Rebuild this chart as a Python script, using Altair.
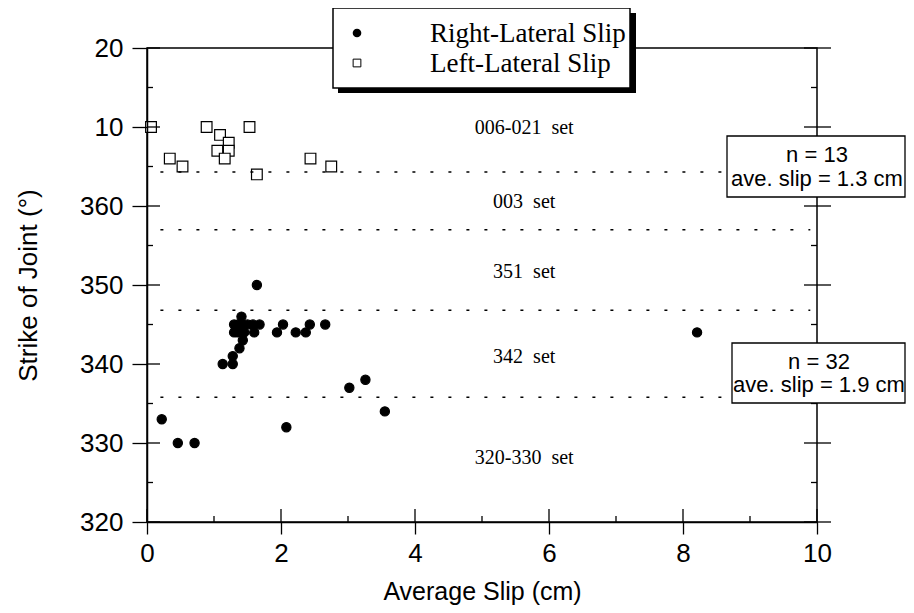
import altair as alt
import pandas as pd

# ---------------- data ----------------
series_names = ["Right-Lateral Slip", "Left-Lateral Slip"]

rl_slip = [1.64, 1.41, 1.30, 1.42, 1.58, 1.68, 1.36, 1.50, 1.30, 1.45, 1.60, 1.40,
           1.43, 1.38, 1.28, 1.13, 1.28, 1.94, 2.03, 2.22, 2.37, 2.43, 2.66,
           3.26, 3.02, 3.55, 0.22, 0.46, 0.71, 2.08, 8.21, 1.35]
rl_strike = [350, 346, 345, 345, 345, 345, 345, 345, 344, 344, 344, 344,
             343, 342, 341, 340, 340, 344, 345, 344, 344, 345, 345,
             338, 337, 334, 333, 330, 330, 332, 344, 344]

ll_slip = [0.06, 0.89, 1.53, 1.09, 1.22, 1.05, 1.22, 1.16, 0.34, 0.53, 2.44, 2.75, 1.64]
ll_strike = [10, 10, 10, 9, 8, 7, 7, 6, 6, 5, 6, 5, 4]

set_names = ["006-021\u00a0 set", "003\u00a0 set", "351\u00a0 set", "342\u00a0 set", "320-330\u00a0 set"]
set_strike = [369.9, 360.5, 351.6, 340.9, 328.1]
set_slip = [5.63, 5.63, 5.63, 5.63, 5.63]

boundary_strike = [364.3, 357.0, 346.8, 335.8]
boundary_from = [0.2, 0.2, 0.2, 0.2]
boundary_to = [9.9, 9.9, 9.9, 9.9]

y_major = [320, 330, 340, 350, 360, 370, 380]
y_minor = [325, 335, 345, 355, 365, 375]
x_major = [0, 2, 4, 6, 8, 10]
x_minor = [1, 3, 5, 7, 9]

stats_n = ["n = 13", "n = 32"]
stats_slip = ["ave. slip = 1.3 cm", "ave. slip = 1.9 cm"]

# ---------------- tables ----------------
def unwrap(s):
    return s + 360 if s < 180 else s

pts = pd.DataFrame({
    "slip": rl_slip + ll_slip,
    "strike": [unwrap(s) for s in rl_strike + ll_strike],
    "type": [series_names[0]] * len(rl_slip) + [series_names[1]] * len(ll_slip),
})
sets_df = pd.DataFrame({"slip": set_slip, "strike": set_strike, "label": set_names})
bound_df = pd.DataFrame({"slip": boundary_from, "x2": boundary_to, "strike": boundary_strike})
ymaj_df = pd.DataFrame({"strike": y_major})
ymin_df = pd.DataFrame({"strike": y_minor})
xmaj_df = pd.DataFrame({"slip": x_major})
xmin_df = pd.DataFrame({"slip": x_minor})
one = pd.DataFrame({"k": [0]})

W, H = 670, 474
SANS = "Liberation Sans"
SERIF = "Liberation Serif"

xs = alt.Scale(domain=[0, 10], nice=False, zero=False)
ys = alt.Scale(domain=[320, 380], nice=False, zero=False)

x_axis = alt.Axis(values=x_major, tickSize=12, tickColor="black", tickWidth=1.3,
                  domainColor="black", domainWidth=1.5, grid=False,
                  labelFont=SANS, labelFontSize=26, labelColor="black", labelPadding=6,
                  labelFlush=False, zindex=1,
                  title="Average Slip (cm)", titleFont=SANS, titleFontSize=25,
                  titleFontWeight="normal", titleColor="black",
                  titleX=335, titleY=69, titleBaseline="middle", titleAlign="center")
y_axis = alt.Axis(values=y_major, tickSize=15, tickColor="black", tickWidth=1.3,
                  domainColor="black", domainWidth=1.5, grid=False, zindex=1,
                  labelExpr="datum.value > 360 ? datum.value - 360 : datum.value",
                  labelFont=SANS, labelFontSize=26, labelColor="black", labelPadding=9,
                  labelBaseline="middle",
                  title="Strike of Joint (°)", titleFont=SANS, titleFontSize=26,
                  titleFontWeight="normal", titleColor="black",
                  titleX=-119, titleY=237, titleAngle=270,
                  titleBaseline="middle", titleAlign="center")

X = lambda: alt.X("slip:Q", scale=xs, axis=x_axis)
Y = lambda: alt.Y("strike:Q", scale=ys, axis=y_axis)

# ---------------- data layers ----------------
points = alt.Chart(pts).mark_point(filled=True, stroke="black", strokeWidth=1.2, opacity=1).encode(
    x=X(), y=Y(),
    shape=alt.Shape("type:N", scale=alt.Scale(domain=series_names, range=["circle", "square"]), legend=None),
    fill=alt.Fill("type:N", scale=alt.Scale(domain=series_names, range=["black", "white"]), legend=None),
    size=alt.Size("type:N", scale=alt.Scale(domain=series_names, range=[85, 115]), legend=None),
)

bounds = alt.Chart(bound_df).mark_rule(color="black", strokeWidth=1.6, strokeDash=[3, 15]).encode(
    x=X(), x2="x2:Q", y=Y())

set_text = alt.Chart(sets_df).mark_text(font=SERIF, fontSize=20, color="black").encode(
    x=X(), y=Y(), text="label:N")

# inner halves of the crossing ticks and the minor ticks
tick_style = dict(color="black", strokeWidth=1.3)
left_major = alt.Chart(ymaj_df).mark_rule(**tick_style).encode(
    y=Y(), x=alt.value(0), x2=alt.value(13))
left_minor = alt.Chart(ymin_df).mark_rule(**tick_style).encode(
    y=Y(), x=alt.value(0), x2=alt.value(6))
right_major = alt.Chart(ymaj_df).mark_rule(**tick_style).encode(
    y=Y(), x=alt.value(W - 13), x2=alt.value(W + 14))
right_minor = alt.Chart(ymin_df).mark_rule(**tick_style).encode(
    y=Y(), x=alt.value(W - 6), x2=alt.value(W))
bottom_major = alt.Chart(xmaj_df).mark_rule(**tick_style).encode(
    x=X(), y=alt.value(H - 13), y2=alt.value(H))
bottom_minor = alt.Chart(xmin_df).mark_rule(**tick_style).encode(
    x=X(), y=alt.value(H - 6), y2=alt.value(H))

# ---------------- legend box (drawn by hand, with drop shadow) ----------------
shadow = alt.Chart(one).mark_rect(color="black").encode(
    x=alt.value(191), x2=alt.value(489), y=alt.value(-35), y2=alt.value(45))
legend_box = alt.Chart(one).mark_rect(fill="white", stroke="black", strokeWidth=1.5).encode(
    x=alt.value(186), x2=alt.value(483), y=alt.value(-40), y2=alt.value(40))
leg_sym1 = alt.Chart(one).mark_point(shape="circle", filled=True, color="black", size=75, opacity=1).encode(
    x=alt.value(210), y=alt.value(-15))
leg_sym2 = alt.Chart(one).mark_point(shape="square", fill="white", stroke="black", strokeWidth=1,
                                     size=60, opacity=1).encode(x=alt.value(210), y=alt.value(15))
leg_style = dict(font=SERIF, fontSize=27, color="black", align="left", baseline="middle")
leg_t1 = alt.Chart(one).mark_text(**leg_style, text=series_names[0]).encode(x=alt.value(283), y=alt.value(-14))
leg_t2 = alt.Chart(one).mark_text(**leg_style, text=series_names[1]).encode(x=alt.value(283), y=alt.value(16))

# ---------------- statistics boxes ----------------
box_style = dict(fill="white", stroke="black", strokeWidth=1.3)
box1 = alt.Chart(one).mark_rect(**box_style).encode(
    x=alt.value(580), x2=alt.value(758), y=alt.value(88), y2=alt.value(149))
box2 = alt.Chart(one).mark_rect(**box_style).encode(
    x=alt.value(585), x2=alt.value(758), y=alt.value(295), y2=alt.value(355))
txt_style = dict(font=SANS, fontSize=22, color="black", align="center", baseline="middle")
t1a = alt.Chart(one).mark_text(**txt_style, text=stats_n[0]).encode(x=alt.value(670), y=alt.value(107))
t1b = alt.Chart(one).mark_text(**txt_style, text=stats_slip[0]).encode(x=alt.value(670), y=alt.value(131))
t2a = alt.Chart(one).mark_text(**txt_style, text=stats_n[1]).encode(x=alt.value(672), y=alt.value(314))
t2b = alt.Chart(one).mark_text(**txt_style, text=stats_slip[1]).encode(x=alt.value(672), y=alt.value(337))

chart = alt.layer(
    points, bounds, set_text, left_major, left_minor, right_major, right_minor,
    bottom_major, bottom_minor, shadow, legend_box, leg_sym1, leg_sym2, leg_t1, leg_t2,
    box1, box2, t1a, t1b, t2a, t2b
).properties(
    width=W, height=H,
    autosize=alt.AutoSizeParams(type="none"),
    padding={"left": 139, "top": 40, "right": 89, "bottom": 83},
    background="white",
).configure_view(stroke="black", strokeWidth=1.5)

chart.save("out.html", embed_options={"renderer": "svg", "actions": False})
